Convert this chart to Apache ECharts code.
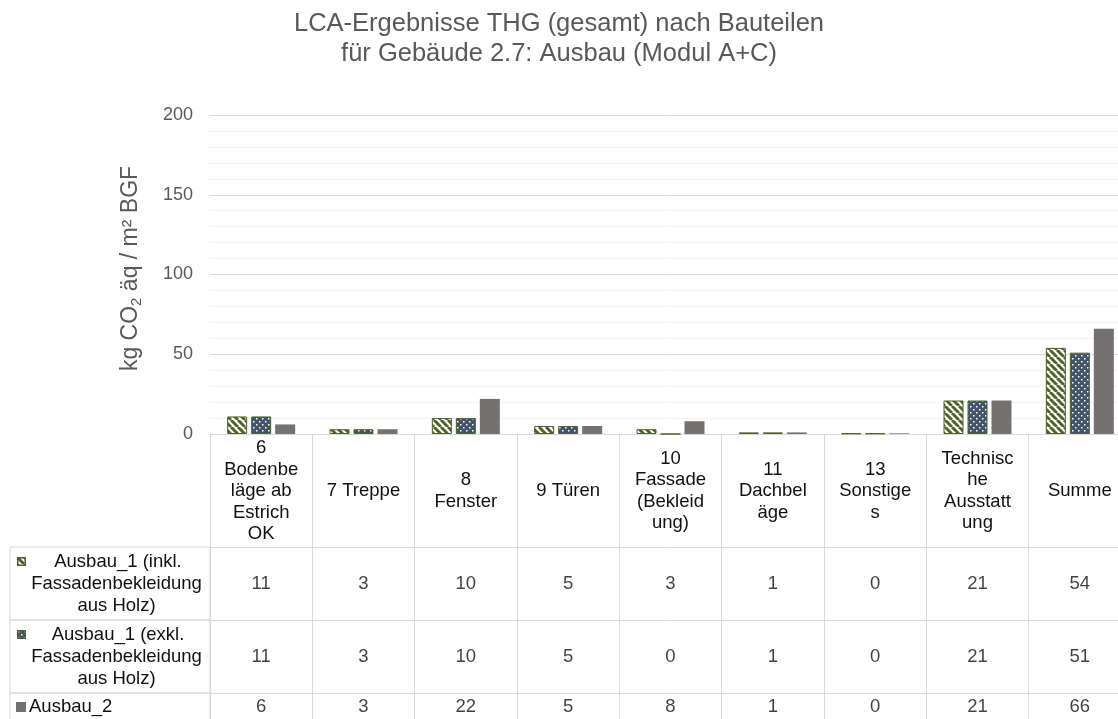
<!DOCTYPE html>
<html>
<head>
<meta charset="utf-8">
<script src="https://cdn.jsdelivr.net/npm/echarts@6/dist/echarts.min.js"></script>
<style>
  html, body { margin: 0; padding: 0; background: #fff; }
  #main { width: 1118px; height: 719px; }
</style>
</head>
<body>
<div id="main"></div>
<script>
const categories = ['6\nBodenbe\nläge ab\nEstrich\nOK', '7 Treppe', '8\nFenster', '9 Türen', '10\nFassade\n(Bekleid\nung)', '11\nDachbel\näge', '13\nSonstige\ns', 'Technisc\nhe\nAusstatt\nung', 'Summe']
const seriesNames = ['Ausbau_1 (inkl.\nFassadenbekleidung\naus Holz)', 'Ausbau_1 (exkl.\nFassadenbekleidung\naus Holz)', 'Ausbau_2']
const ausbau1Inkl = [11, 3, 10, 5, 3, 1, 0.4, 21, 54]
const ausbau1Exkl = [11, 3, 10, 5, 0, 1, 0.4, 21, 51]
const ausbau2 = [6, 3, 22, 5, 8, 1, 0.4, 21, 66]
const rows = [ausbau1Inkl, ausbau1Exkl, ausbau2]
const yMin = 0
const yMax = 200
const yStep = 50

const FONT = 'Liberation Sans, Arial, sans-serif'
const GREEN = '#4f6228'
const BLUE = '#44546a'
const GRAY = '#767171'
const LINE = '#d9d9d9'
const TXT = '#111'
const FS = 18.5

// bar fill tiles
function stripeTile () {
  let c = document.createElement('canvas')
  c.width = 7; c.height = 7
  let g = c.getContext('2d')
  g.fillStyle = '#fff'; g.fillRect(0, 0, 7, 7)
  g.strokeStyle = GREEN; g.lineWidth = 2.9
  g.beginPath()
  for (let k = -7; k <= 7; k += 7) { g.moveTo(k, 0); g.lineTo(k + 7, 7) }
  g.stroke()
  return c
}
function dotTile () {
  let c = document.createElement('canvas')
  c.width = 6; c.height = 6
  let g = c.getContext('2d')
  g.fillStyle = BLUE; g.fillRect(0, 0, 6, 6)
  g.fillStyle = '#fff'
  g.fillRect(1, 1, 1.5, 1.5)
  g.fillRect(4, 4, 1.5, 1.5)
  return c
}
function iconOf (tile, size, border) {
  let c = document.createElement('canvas')
  c.width = size; c.height = size
  let g = c.getContext('2d')
  g.fillStyle = g.createPattern(tile, 'repeat')
  g.fillRect(0, 0, size, size)
  if (border) {
    g.strokeStyle = border; g.lineWidth = 1.5
    g.strokeRect(0.75, 0.75, size - 1.5, size - 1.5)
  }
  return c
}
function solidIcon (color, size) {
  let c = document.createElement('canvas')
  c.width = size; c.height = size
  let g = c.getContext('2d')
  g.fillStyle = color; g.fillRect(0, 0, size, size)
  return c
}

const stripes = stripeTile()
const dots = dotTile()
const icons = [iconOf(stripes, 9, GREEN), iconOf(dots, 9, GREEN), solidIcon(GRAY, 10)]
const fills = [
  {image: stripes, repeat: 'repeat'},
  {image: dots, repeat: 'repeat'},
  GRAY
]

function rowLabel (k) {
  return function (name) {
    let lines = name.split('\n')
    if (k === 2) return '{sp3|}{i2|}{gap|}{l|' + lines[0] + '}'
    return lines.map(function (l, i) {
      return i === 0 ? '{sp|}{i' + k + '|}{t|' + l + '}' : '{sp2|}{t|' + l + '}'
    }).join('\n')
  }
}

const rich = {
  sp: {width: 7, align: 'left'},
  sp2: {width: 13, align: 'left'},
  sp3: {width: 6, align: 'left'},
  gap: {width: 3, align: 'left'},
  i0: {width: 9, height: 9, align: 'left', backgroundColor: {image: icons[0]}},
  i1: {width: 9, height: 9, align: 'left', backgroundColor: {image: icons[1]}},
  i2: {width: 10, height: 10, align: 'left', backgroundColor: {image: icons[2]}},
  t: {align: 'center', fontSize: FS, lineHeight: 22, color: TXT, fontFamily: FONT},
  l: {align: 'left', fontSize: FS, lineHeight: 22, color: TXT, fontFamily: FONT}
}

const tableRows = [
  {top: 547, height: 73, inner: 66},
  {top: 620, height: 73, inner: 66},
  {top: 693, height: 28, inner: 22}
]

let grids = [{left: 210, top: 115, width: 921, height: 319, containLabel: false, outerBoundsMode: 'none'}]
let xAxes = [{
  type: 'category',
  gridIndex: 0,
  data: categories,
  axisLine: {show: true, lineStyle: {color: LINE, width: 1}},
  axisTick: {show: true, interval: 0, length: 113, lineStyle: {color: LINE}},
  axisLabel: {interval: 0, margin: 57, verticalAlign: 'middle', lineHeight: 21.5, fontSize: FS, color: TXT, fontFamily: FONT},
  splitLine: {show: false}
}]
let yAxes = [{
  type: 'value',
  gridIndex: 0,
  min: yMin,
  max: yMax,
  interval: yStep,
  name: 'kg CO{sub|2} äq / m² BGF',
  nameLocation: 'middle',
  nameGap: 66,
  nameTextStyle: {
    fontSize: 23, color: '#595959', fontFamily: FONT,
    padding: [0, 0, 0, 12],
    rich: {sub: {fontSize: 15, color: '#595959', fontFamily: FONT, padding: [11, 0, 0, 0]}}
  },
  axisLine: {show: false},
  axisTick: {show: false},
  axisLabel: {margin: 17, fontSize: 18, color: '#595959', fontFamily: FONT},
  splitLine: {show: true, lineStyle: {color: LINE, width: 1}},
  minorTick: {show: false, splitNumber: 5},
  minorSplitLine: {show: true, lineStyle: {color: '#f2f2f2', width: 1}}
}]

let series = rows.map(function (vals, k) {
  return {
    name: seriesNames[k],
    type: 'bar',
    xAxisIndex: 0,
    yAxisIndex: 0,
    barWidth: 20,
    barGap: '20%',
    itemStyle: k < 2 ? {color: fills[k], borderColor: GREEN, borderWidth: 1} : {color: fills[k]},
    data: vals
  }
})

tableRows.forEach(function (r, k) {
  let gi = k + 1
  grids.push({left: 210, top: r.top, width: 921, height: r.height, containLabel: false, outerBoundsMode: 'none'})
  xAxes.push({
    type: 'category',
    gridIndex: gi,
    position: 'top',
    data: categories,
    axisLine: {show: true, lineStyle: {color: LINE}},
    axisTick: {show: false},
    axisLabel: {show: false},
    splitLine: {show: true, interval: 0, lineStyle: {color: LINE}}
  })
  yAxes.push({
    type: 'category',
    gridIndex: gi,
    data: [seriesNames[k]],
    axisLine: {show: true, lineStyle: {color: LINE}},
    axisTick: {show: false},
    splitLine: {show: false},
    axisLabel: {
      margin: 100,
      align: 'center',
      verticalAlign: 'middle',
      width: 200,
      height: r.inner,
      padding: [(r.height - r.inner) / 2, 0, (r.height - r.inner) / 2, 0],
      borderColor: LINE,
      borderWidth: 1,
      fontSize: FS,
      lineHeight: 22,
      color: TXT,
      fontFamily: FONT,
      formatter: rowLabel(k),
      rich: rich
    }
  })
  series.push({
    type: 'scatter',
    xAxisIndex: gi,
    yAxisIndex: gi,
    symbolSize: 1,
    silent: true,
    itemStyle: {color: 'rgba(0,0,0,0)'},
    label: {
      show: true,
      position: 'inside',
      fontSize: FS,
      color: TXT,
      fontFamily: FONT,
      formatter: function (p) { return Math.round(p.value[2]) }
    },
    data: rows[k].map(function (v, i) { return [i, 0, v] })
  })
})

let chart = echarts.init(document.getElementById('main'))
chart.setOption({
  backgroundColor: '#fff',
  animation: false,
  title: {
    text: 'LCA-Ergebnisse THG (gesamt) nach Bauteilen\nfür Gebäude 2.7: Ausbau (Modul A+C)',
    left: 'center',
    top: 4,
    textStyle: {fontSize: 25.5, fontWeight: 'normal', color: '#595959', lineHeight: 30, fontFamily: FONT}
  },
  tooltip: {show: false},
  legend: {show: false},
  grid: grids,
  xAxis: xAxes,
  yAxis: yAxes,
  series: series
})
</script>
</body>
</html>
